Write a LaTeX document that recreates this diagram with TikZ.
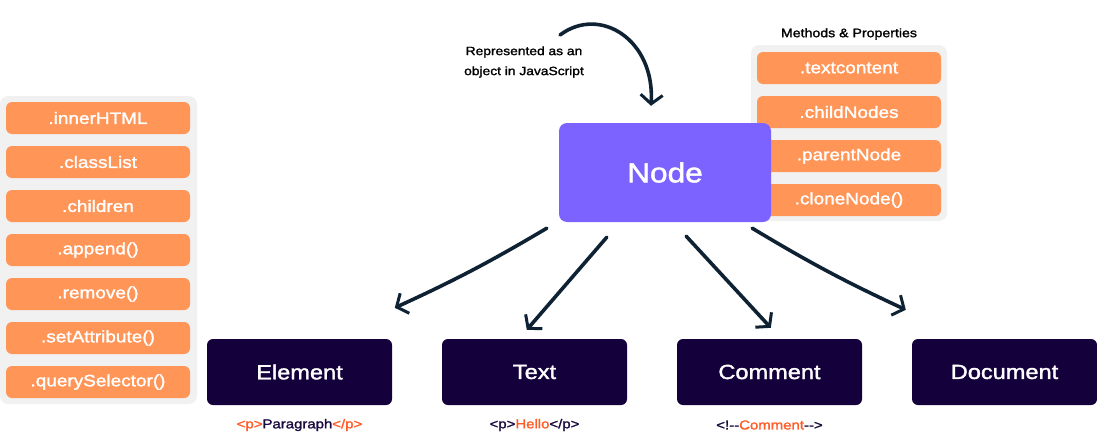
\documentclass[tikz,border=0pt]{standalone}
\usepackage{fontspec}
\setmainfont{Liberation Sans}[FakeStretch=1.15, FakeBold=1.6]
\usetikzlibrary{arrows.meta}
\definecolor{orng}{HTML}{FF9557}
\definecolor{purp}{HTML}{7C63FF}
\definecolor{navy}{HTML}{14003A}
\definecolor{panel}{HTML}{F1F1F1}
\definecolor{arrowc}{HTML}{0F2233}
\definecolor{lbltxt}{HTML}{FF5C28}
\definecolor{darktxt}{HTML}{1A0B3F}
\tikzset{
  pnl/.style={fill=panel, rounded corners=8pt, inner sep=0pt},
  obox/.style={fill=orng, rounded corners=6pt, minimum width=184pt, minimum height=32pt, inner sep=0pt, text=white, font=\fontsize{16.5}{20}\selectfont},
  nbox/.style={fill=navy, rounded corners=6pt, minimum width=185pt, minimum height=66pt, inner sep=0pt, text=white, font=\fontsize{20.5}{24}\selectfont},
  lbl/.style={inner sep=0pt, text=darktxt, font=\fontsize{13}{15}\selectfont},
  arr/.style={draw=arrowc, line width=3.6pt, line cap=round, -{Straight Barb[length=9pt,width=22pt,line width=3pt]}},
}
\begin{document}
\begin{tikzpicture}[x=1pt,y=-1pt]
\useasboundingbox (0,0) rectangle (1097,447);
% left panel
\node[pnl, minimum width=197pt, minimum height=308pt] (lp) at (98.5,250) {};
\node[obox] (l1) at (98,118) {.innerHTML};
\node[obox] (l2) at (98,162) {.classList};
\node[obox] (l3) at (98,206) {.children};
\node[obox] (l4) at (98,250) {.append()};
\node[obox] (l5) at (98,294) {.remove()};
\node[obox] (l6) at (98,338) {.setAttribute()};
\node[obox] (l7) at (98,382) {.querySelector()};
% right panel
\node[inner sep=0pt, font=\fontsize{12.3}{14}\selectfont, text=black] (mp) at (849,34) {Methods \& Properties};
\node[pnl, minimum width=196pt, minimum height=176pt] (rp) at (849,133) {};
\node[obox] (r1) at (849,68) {.textcontent};
\node[obox] (r2) at (849,112) {.childNodes};
\node[obox] (r3) at (849,156) {.parentNode};
\node[obox] (r4) at (849,200) {.cloneNode()};
% main node
\node[fill=purp, rounded corners=8pt, minimum width=212pt, minimum height=99pt, inner sep=0pt, text=white, font=\fontsize{27.5}{32}\selectfont] (N) at (665,172.5) {Node};
% bottom
\node[nbox] (el) at (299.5,372) {Element};
\node[nbox] (tx) at (534.5,372) {Text};
\node[nbox] (cm) at (769.5,372) {Comment};
\node[nbox] (dc) at (1004.5,372) {Document};
\node[lbl] (ell) at (299.5,425) {\textcolor{lbltxt}{<p>}Paragraph\textcolor{lbltxt}{</p>}};
\node[lbl] (txl) at (534.5,425) {<p>\textcolor{lbltxt}{Hello}</p>};
\node[lbl] (cml) at (769.5,425) {<!-{}-\textcolor{lbltxt}{Comment}-{}->};
% represented text
\node[inner sep=0pt, align=center, font=\fontsize{12}{20}\selectfont, text=black] (rep) at (524,62) {Represented as an\\object in JavaScript};
\coordinate (cs) at (560,35);
\draw[arr] (cs) .. controls (600,5) and (655,40) .. ([shift={(-14,-17)}]N.north);
% arrows
\draw[arr] ([shift={(-12,6)}]N.south west) to[bend left=3] ([shift={(188,-31)}]el.north west);
\draw[arr] ([shift={(48,15)}]N.south west) -- ([shift={(85,-9)}]tx.north west);
\draw[arr] ([shift={(-85,14)}]N.south east) -- ([shift={(94,-11)}]cm.north west);
\draw[arr] ([shift={(-19,6)}]N.south east) to[bend left=-3] ([shift={(-6,-29)}]dc.north west);
\end{tikzpicture}
\end{document}
